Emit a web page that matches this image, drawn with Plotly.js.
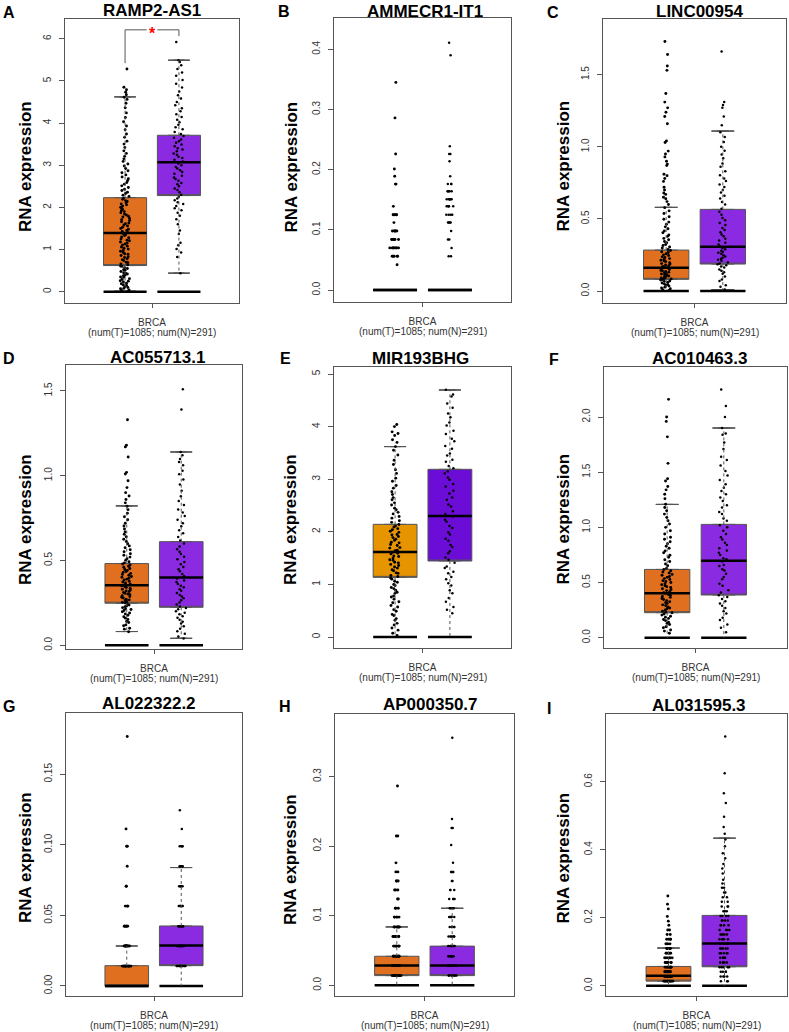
<!DOCTYPE html>
<html><head><meta charset="utf-8">
<script src="https://cdn.plot.ly/plotly-3.0.1.min.js"></script>
<style>html,body{margin:0;padding:0;background:#fff}</style>
</head><body><div id="chart" style="width:789px;height:1032px"></div>
<script>
// ---------------- DATA ----------------
const panelLetters = ['A','B','C','D','E','F','G','H','I'];
const geneNames = ['RAMP2-AS1','AMMECR1-IT1','LINC00954','AC055713.1','MIR193BHG','AC010463.3','AL022322.2','AP000350.7','AL031595.3'];
const groupNames = ['Tumor','Normal'];
const xTickLabel = 'BRCA';
const xSubLabel = '(num(T)=1085; num(N)=291)';
const yAxisLabel = 'RNA expression';

// box statistics, panels A..I
const q1T  = [0.62, 0, 0.081, 0.248, 1.134, 0.227, 0,      0.0139, 0.0137];
const medT = [1.39, 0, 0.162, 0.354, 1.616, 0.402, 0,      0.0283, 0.0294];
const q3T  = [2.23, 0, 0.284, 0.482, 2.142, 0.619, 0.0144, 0.0417, 0.0569];
const lfT  = [0.01, 0, 0,     0.081, 0,     0,     0,      0,      0];
const ufT  = [4.62, 0, 0.58,  0.822, 3.62,  1.208, 0.0283, 0.0839, 0.111];
const q1N  = [2.28, 0, 0.187, 0.224, 1.445, 0.387, 0.0144, 0.0139, 0.0559];
const medN = [3.07, 0, 0.307, 0.399, 2.30,  0.698, 0.0286, 0.0283, 0.1245];
const q3N  = [3.71, 0, 0.566, 0.611, 3.188, 1.027, 0.0425, 0.0563, 0.2069];
const lfN  = [0.44, 0, 0.01,  0.041, 0,     0,     0,      0,      0];
const ufN  = [5.49, 0, 1.109, 1.14,  4.696, 1.90,  0.0839, 0.1107, 0.434];

// significance bracket (panel A): left leg bottom, top, right leg bottom
const bracketY = [5.42, 6.21, 6.06];
const sigMark = '*';

// sample points (non-zero samples shown as jittered dots)
const ptsT_A = [0.01,0.03,0.04,0.07,0.08,0.1,0.12,0.15,0.16,0.19,0.2,0.23,0.25,0.26,0.29,0.31,0.34,0.35,0.38,0.39,0.42,0.44,0.45,0.48,0.51,0.52,0.55,0.57,0.6,0.61,
0.64,0.66,0.69,0.7,0.74,0.76,0.78,0.81,0.83,0.86,0.89,0.9,0.93,0.96,0.98,1.01,1.03,1.06,1.08,1.11,1.13,1.15,1.18,1.21,1.22,1.25,1.28,1.3,1.33,1.35,1.38,
1.4,1.43,1.45,1.48,1.5,1.53,1.56,1.58,1.61,1.63,1.66,1.69,1.71,1.74,1.77,1.79,1.82,1.84,1.87,1.9,1.92,1.95,1.98,2.0,2.03,2.06,2.08,2.11,2.14,2.16,2.19,2.22,
2.26,2.29,2.33,2.36,2.4,2.43,2.47,2.51,2.55,2.59,2.64,2.68,2.72,2.77,2.82,2.87,2.92,2.98,3.03,3.09,3.15,3.21,3.28,3.34,3.42,3.5,3.57,3.66,3.74,3.84,3.93,4.03,4.13,4.24,4.36,4.47,4.56,4.61,4.67,4.73,4.79,4.85,5.28];
const ptsN_A = [0.44,0.82,0.93,1.01,1.1,1.16,1.37,1.45,1.6,1.72,1.8,1.87,1.93,1.98,2.03,2.08,2.12,2.17,2.21,2.25,
2.3,2.36,2.41,2.45,2.5,2.55,2.58,2.63,2.67,2.71,2.75,2.8,2.84,2.88,2.92,2.96,3.0,3.04,
3.09,3.13,3.17,3.2,3.25,3.28,3.33,3.37,3.4,3.45,3.49,3.53,3.57,3.61,3.65,3.69,
3.74,3.79,3.85,3.9,3.96,4.02,4.08,4.14,4.21,4.28,4.35,4.42,4.5,4.58,4.66,4.75,4.84,4.93,5.02,5.12,5.2,5.28,5.37,5.45,5.49,5.92];

const ptsT_B = [0.042,0.056,0.056,0.056,0.056,0.056,0.070,0.070,0.070,0.070,0.070,0.070,0.070,0.070,
0.084,0.084,0.084,0.084,0.084,0.084,0.098,0.098,0.098,0.098,0.098,0.112,0.125,0.125,0.125,0.125,0.125,
0.139,0.176,0.176,0.189,0.201,0.226,0.286,0.345];
const ptsN_B = [0.056,0.056,0.070,0.084,0.084,0.098,0.112,0.112,0.112,0.112,0.125,0.125,0.125,0.125,
0.139,0.139,0.139,0.139,0.139,0.151,0.151,0.151,0.151,0.151,0.151,0.164,0.164,0.164,0.164,0.164,
0.176,0.176,0.176,0.189,0.214,0.226,0.226,0.239,0.390,0.411];

const ptsT_C = [0.004,0.009,0.016,0.021,0.027,0.034,0.038,0.045,0.049,0.056,0.061,0.067,0.07,0.076,0.08,
0.084,0.089,0.091,0.097,0.101,0.105,0.109,0.114,0.118,0.121,0.127,0.131,0.135,0.14,0.143,0.149,0.153,0.156,0.161,
0.165,0.17,0.176,0.18,0.187,0.19,0.196,0.204,0.208,0.213,0.221,0.225,0.233,0.237,0.246,0.251,0.258,0.267,0.272,0.281,
0.288,0.298,0.305,0.316,0.323,0.335,0.343,0.356,0.365,0.379,0.388,0.404,0.416,0.432,0.445,0.463,0.478,0.498,0.515,0.537,0.556,0.578,
0.6,0.62,0.64,0.65,0.67,0.68,0.7,0.72,0.76,0.78,0.8,0.81,0.87,0.88,0.9,0.93,0.95,0.97,1.03,1.04,1.16,1.21,1.24,1.27,1.31,1.37,1.53,1.56,1.64,1.73];
const ptsN_C = [0.01,0.03,0.04,0.07,0.08,0.1,0.12,0.13,0.14,0.15,0.163,0.17,0.178,0.185,
0.19,0.198,0.21,0.217,0.224,0.231,0.24,0.248,0.258,0.265,0.272,0.28,0.29,0.298,
0.31,0.322,0.334,0.351,0.362,0.38,0.392,0.408,0.423,0.437,0.458,0.471,0.49,0.507,0.528,0.549,
0.57,0.6,0.618,0.642,0.66,0.683,0.7,0.722,0.738,0.762,0.78,0.803,0.83,0.862,0.885,0.92,0.947,0.972,1.0,1.033,1.068,1.1,1.15,1.21,1.27,1.29,1.31,1.66];

const ptsT_D = [0.08,0.095,0.1,0.115,0.12,0.134,0.14,0.152,0.16,0.168,0.177,0.185,0.19,0.198,0.205,0.211,0.216,0.222,0.228,0.231,0.237,0.243,
0.249,0.253,0.258,0.264,0.268,0.272,0.279,0.283,0.287,0.292,0.298,0.302,0.306,0.311,0.317,0.321,0.326,0.33,0.336,0.341,0.347,0.351,
0.357,0.361,0.367,0.373,0.378,0.385,0.39,0.395,0.401,0.406,0.413,0.418,0.424,0.43,0.435,0.442,0.447,0.453,0.46,0.466,0.473,0.479,
0.486,0.493,0.502,0.511,0.52,0.531,0.54,0.552,0.563,0.575,0.586,0.599,0.612,0.625,0.64,0.655,0.669,0.686,0.703,0.72,0.74,0.758,0.779,0.8,0.82,
0.84,0.86,0.88,0.9,0.93,0.97,1.01,1.02,1.11,1.17,1.18,1.33];
const ptsN_D = [0.04,0.052,0.068,0.083,0.097,0.112,0.128,0.139,0.151,0.162,0.171,0.183,0.192,0.201,0.212,0.22,
0.229,0.241,0.252,0.266,0.277,0.288,0.297,0.309,0.321,0.33,0.342,0.351,0.362,0.373,0.382,0.394,
0.407,0.421,0.437,0.449,0.462,0.478,0.491,0.507,0.522,0.538,0.551,0.567,0.583,0.6,
0.618,0.639,0.661,0.679,0.702,0.72,0.741,0.762,0.783,0.801,0.828,0.851,0.879,0.912,0.948,0.978,1.008,1.03,1.062,1.081,1.098,1.12,1.14,1.39,1.51];

const ptsT_E = [0.03,0.07,0.13,0.17,0.23,0.26,0.32,0.35,0.41,0.43,0.49,0.52,0.57,0.6,0.65,0.67,0.72,0.76,0.78,0.83,0.85,0.89,0.92,0.94,0.98,1.0,1.04,1.06,1.1,1.12,
1.15,1.17,1.21,1.22,1.26,1.28,1.31,1.33,1.36,1.38,1.41,1.42,1.46,1.47,1.5,1.53,1.54,1.58,1.59,1.61,
1.64,1.65,1.69,1.7,1.74,1.76,1.79,1.8,1.84,1.86,1.89,1.91,1.94,1.95,1.99,2.01,2.04,2.06,2.09,2.11,2.14,
2.18,2.21,2.26,2.29,2.34,2.37,2.42,2.45,2.51,2.55,2.61,2.65,2.71,2.76,2.83,2.88,2.96,3.02,3.11,3.18,3.28,3.36,3.46,3.55,3.62,3.7,3.75,3.83,3.87,3.9,4.0,4.04];
const ptsN_E = [0.45,0.52,0.57,0.67,0.74,0.83,0.89,0.98,1.02,1.1,1.14,1.21,1.24,1.31,1.34,1.41,
1.47,1.51,1.59,1.63,1.71,1.75,1.83,1.87,1.95,1.99,2.07,2.11,2.19,2.23,2.29,
2.34,2.39,2.48,2.52,2.61,2.65,2.73,2.78,2.86,2.91,2.99,3.03,3.11,3.15,
3.21,3.25,3.33,3.37,3.45,3.49,3.58,3.63,3.72,3.77,3.86,3.92,4.02,4.08,4.18,4.25,4.36,4.44,4.57,4.61,4.7];

const ptsT_F = [0.04,0.06,0.07,0.09,0.1,0.12,0.13,0.14,0.155,0.165,0.175,0.185,0.195,0.205,0.215,0.226,
0.232,0.24,0.251,0.262,0.27,0.279,0.291,0.298,0.31,0.318,0.327,0.336,0.347,0.355,0.366,0.373,0.384,0.392,0.401,
0.408,0.418,0.427,0.436,0.444,0.455,0.463,0.472,0.481,0.49,0.5,0.509,0.517,0.528,0.536,0.547,0.555,0.566,0.574,0.586,0.595,0.607,0.618,
0.63,0.652,0.668,0.691,0.707,0.729,0.748,0.77,0.786,0.811,0.829,0.852,0.87,0.893,0.91,0.94,0.97,1.0,1.03,1.06,1.09,1.12,1.15,1.18,1.21,
1.26,1.3,1.34,1.37,1.42,1.44,1.58,1.82,1.96,2.0,2.16];
const ptsN_F = [0.05,0.09,0.12,0.16,0.18,0.22,0.24,0.27,0.29,0.31,0.33,0.35,0.37,0.385,
0.41,0.43,0.47,0.49,0.53,0.55,0.58,0.61,0.62,0.65,0.66,0.69,
0.71,0.72,0.75,0.77,0.79,0.81,0.84,0.86,0.89,0.91,0.94,0.97,1.0,1.02,
1.06,1.08,1.12,1.14,1.18,1.2,1.24,1.27,1.3,1.33,1.36,1.39,1.43,1.47,1.51,1.56,1.61,1.64,1.71,1.77,1.84,1.85,1.9,2.0,2.1,2.25];

const ptsT_G = [0.0141,0.0141,0.0141,0.0141,0.0141,0.0141,0.0141,0.0141,0.0141,0.0141,0.0141,0.0141,0.0141,0.0141,
0.0283,0.0283,0.0283,0.0283,0.0283,0.0283,0.0283,0.0283,0.0283,
0.0424,0.0424,0.0424,0.0424,0.0424,0.0424,0.0424,
0.0566,0.0566,0.0566,0.0566,0.0707,0.0707,0.0848,0.099,0.099,0.1113,0.1768];
const ptsN_G = [0.0141,0.0141,0.0141,0.0141,0.0141,0.0141,0.0141,0.0141,0.0141,0.0141,0.0141,0.0141,
0.0283,0.0283,0.0283,0.0283,0.0283,0.0283,0.0283,0.0283,0.0283,0.0283,0.0283,0.0283,
0.0424,0.0424,0.0424,0.0424,0.0424,0.0424,0.0424,0.0424,0.0424,0.0424,
0.0566,0.0566,0.0566,0.0566,0.0566,0.0566,0.0707,0.0707,0.0707,0.0707,0.0707,
0.0848,0.0848,0.0848,0.0848,0.0848,0.099,0.099,0.099,0.099,0.1113,0.1245];

const ptsT_H = [0.0139,0.0139,0.0139,0.0139,0.0139,0.0139,0.0139,0.0139,0.0139,0.0139,0.0139,0.0139,
0.0283,0.0283,0.0283,0.0283,0.0283,0.0283,0.0283,0.0283,0.0283,0.0283,0.0283,0.0283,
0.0417,0.0417,0.0417,0.0417,0.0417,0.0417,0.0417,0.0417,0.0417,0.0417,
0.0563,0.0563,0.0563,0.0563,0.0563,0.0563,0.0563,0.0563,0.0701,0.0701,0.0701,0.0701,0.0701,0.0701,0.0701,
0.0839,0.0839,0.0839,0.0839,0.0839,0.0839,0.098,0.098,0.098,0.098,0.098,0.1107,0.1107,0.1107,0.124,0.124,
0.137,0.137,0.137,0.150,0.150,0.150,0.163,0.163,0.176,0.2147,0.2147,0.2865];
const ptsN_H = [0.0139,0.0139,0.0139,0.0139,0.0139,0.0139,0.0139,0.0139,0.0283,0.0283,0.0283,0.0283,0.0283,0.0283,0.0283,0.0283,
0.0417,0.0417,0.0417,0.0417,0.0417,0.0417,0.0417,0.0417,0.0563,0.0563,0.0563,0.0563,0.0563,0.0563,0.0563,
0.0701,0.0701,0.0701,0.0701,0.0701,0.0701,0.0839,0.0839,0.0839,0.0839,0.0839,0.098,0.098,0.098,0.098,0.098,
0.1107,0.1107,0.1107,0.1107,0.124,0.124,0.124,0.124,0.137,0.137,0.137,0.150,0.150,0.163,0.163,0.163,0.163,
0.176,0.2017,0.226,0.226,0.239,0.356];

const ptsT_I = [0.0137,0.0137,0.0137,0.0137,0.0137,0.0137,0.0137,0.0137,0.0137,0.0137,
0.0274,0.0274,0.0274,0.0274,0.0274,0.0274,0.0274,0.0274,0.0274,0.0274,
0.0411,0.0411,0.0411,0.0411,0.0411,0.0411,0.0411,0.0411,0.0411,0.0411,
0.0548,0.0548,0.0548,0.0548,0.0548,0.0548,0.0548,0.0548,0.0548,
0.0685,0.0685,0.0685,0.0685,0.0685,0.0685,0.0685,0.0685,0.0822,0.0822,0.0822,0.0822,0.0822,0.0822,0.0822,
0.0959,0.0959,0.0959,0.0959,0.0959,0.0959,0.1096,0.1096,0.1096,0.1096,0.1096,0.1233,0.1233,0.1233,0.1233,
0.137,0.137,0.137,0.137,0.1507,0.1507,0.164,0.164,0.178,0.19,0.204,0.226,0.24,0.264];
const ptsN_I = [0.0137,0.0137,0.0137,0.0274,0.0274,0.0274,0.0274,0.0411,0.0411,0.0411,0.0411,
0.0548,0.0548,0.0548,0.0548,0.0548,0.0685,0.0685,0.0685,0.0685,0.0685,0.0822,0.0822,0.0822,0.0822,0.0822,
0.0959,0.0959,0.0959,0.0959,0.0959,0.1096,0.1096,0.1096,0.1096,0.1096,0.1233,0.1233,0.1233,0.1233,0.1233,
0.137,0.137,0.137,0.137,0.137,0.1507,0.1507,0.1507,0.1507,0.1507,0.164,0.164,0.164,0.164,0.178,0.178,0.178,0.178,
0.192,0.192,0.192,0.192,0.205,0.205,0.205,0.205,0.219,0.219,0.219,0.233,0.233,0.233,0.247,0.247,0.26,0.26,
0.274,0.274,0.288,0.288,0.301,0.312,0.33,0.345,0.358,0.375,0.39,0.41,0.43,0.447,0.467,0.497,0.537,0.566,0.625,0.733];

const ptsT = [ptsT_A,ptsT_B,ptsT_C,ptsT_D,ptsT_E,ptsT_F,ptsT_G,ptsT_H,ptsT_I];
const ptsN = [ptsN_A,ptsN_B,ptsN_C,ptsN_D,ptsN_E,ptsN_F,ptsN_G,ptsN_H,ptsN_I];

// ---------------- STYLE / LAYOUT ----------------
const W = 789, H = 1032;
const FONT = 'Liberation Sans, Arial, Helvetica, sans-serif';
const fillT = ['#E0701F','#E0701F','#E0701F','#E0701F','#E69400','#E0701F','#E0701F','#E0701F','#E0701F'];
const fillN = ['#8A2BE2','#8A2BE2','#8A2BE2','#8A2BE2','#6B0DD6','#8A2BE2','#8A2BE2','#8A2BE2','#8A2BE2'];
const markerSize = [2.9, 2.5];
// plot frames in px: [left, right, top, bottom]
const frames = [[65,239,19,303],[334,511,18,302],[603,786,19,303],
                [66,242,365,649],[334,511,367,648],[604,787,367,648],
                [66,242,713,996],[335,514,714,996],[606,787,714,996]];
const yRanges = [[-0.268,6.467],[-0.0199,0.452],[-0.083,1.886],[-0.022,1.653],[-0.209,5.133],[-0.093,2.453],[-0.0071,0.1934],[-0.0154,0.390],[-0.030,0.799]];
const yDtick = [1,0.1,0.5,0.5,1,0.5,0.05,0.1,0.2];
const yFmt = ['d','.1f','.1f','.1f','d','.1f','.2f','.1f','.1f'];
const letterPos = [[9,12.5],[284,11],[553,12],[9,359],[285,359],[554,360],[9,706],[285,706],[549,708]];
const titlePos = [[152,10.5],[425,11],[699,11.5],[157,357.5],[420,359],[699,359],[149,703],[430,704.5],[699,705]];
const ylabPos = [[25,167],[291,167.5],[563,166.5],[25,520],[290,520],[563,519.5],[25,858],[290,860],[563,858.5]];
const groupPos = [1, 2];
const xRange = [-0.115, 3.115];

const data = [];
const layout = {
  width: W, height: H, margin: {l:0,r:0,t:0,b:0},
  paper_bgcolor: '#fff', plot_bgcolor: '#fff', showlegend: false,
  font: {family: FONT, color: '#000'}, boxmode: 'overlay',
  annotations: []
};
const px = x => x / W, py = y => 1 - y / H;

for (let k = 0; k < 9; k++) {
  const xa = 'x' + (k+1), ya = 'y' + (k+1);
  const f = frames[k];
  layout['xaxis' + (k+1)] = {
    domain: [px(f[0]), px(f[1])], anchor: ya, range: xRange, fixedrange: true,
    showgrid: false, zeroline: false, showline: true, linecolor: '#555', linewidth: 1, mirror: true,
    ticks: 'outside', ticklen: 4, tickcolor: '#555', tickvals: [1.5], ticktext: [xTickLabel],
    tickfont: {size: 10, color: '#333', family: FONT}, ticklabelstandoff: 6
  };
  layout['yaxis' + (k+1)] = {
    domain: [py(f[3]), py(f[2])], anchor: xa, range: yRanges[k], fixedrange: true,
    showgrid: false, zeroline: false, showline: true, linecolor: '#555', linewidth: 1, mirror: true,
    ticks: 'outside', ticklen: 5, tickcolor: '#555', tick0: 0, dtick: yDtick[k], tickformat: yFmt[k],
    tickangle: -90, tickfont: {size: 10, color: '#333', family: FONT}, ticklabelstandoff: 4
  };
  const groups = [
    {pts: ptsT[k], q1: q1T[k], med: medT[k], q3: q3T[k], lf: lfT[k], uf: ufT[k], fill: fillT[k], name: groupNames[0]},
    {pts: ptsN[k], q1: q1N[k], med: medN[k], q3: q3N[k], lf: lfN[k], uf: ufN[k], fill: fillN[k], name: groupNames[1]}
  ];
  groups.forEach((g, gi) => {
    const p = groupPos[gi];
    // box body (whiskers drawn separately, dotted)
    data.push({type:'box', xaxis:xa, yaxis:ya, name:g.name, x:[p], q1:[g.q1], median:[g.q1], q3:[g.q3],
      lowerfence:[g.q1], upperfence:[g.q3], width:0.8, fillcolor:g.fill, line:{color:'#555', width:1},
      boxpoints:false, hoverinfo:'skip'});
    // dotted whiskers
    data.push({type:'scatter', mode:'lines', xaxis:xa, yaxis:ya, x:[p,p,null,p,p], y:[g.q3,g.uf,null,g.q1,g.lf],
      line:{color:'#555', width:1, dash:'dot'}, hoverinfo:'skip'});
    // whisker caps
    data.push({type:'box', xaxis:xa, yaxis:ya, x:[p,p], q1:[g.uf,g.lf], median:[g.uf,g.lf], q3:[g.uf,g.lf],
      lowerfence:[g.uf,g.lf], upperfence:[g.uf,g.lf], width:0.4, fillcolor:'rgba(0,0,0,0)',
      line:{color:'#555', width:1}, boxpoints:false, hoverinfo:'skip'});
    // jittered sample points
    data.push({type:'box', xaxis:xa, yaxis:ya, x0:p, y:g.pts, boxpoints:'all', jitter:0.25, pointpos:0,
      width:0.8, fillcolor:'rgba(0,0,0,0)', line:{color:'rgba(0,0,0,0)', width:0},
      marker:{color:'#000', size:markerSize[gi]}, hoverinfo:'skip'});
    // median line and zero line
    data.push({type:'box', xaxis:xa, yaxis:ya, x:[p,p], q1:[g.med,0], median:[g.med,0], q3:[g.med,0],
      lowerfence:[g.med,0], upperfence:[g.med,0], width:0.8, fillcolor:'rgba(0,0,0,0)',
      line:{color:'#000', width:2.5}, boxpoints:false, hoverinfo:'skip'});
  });
  layout.annotations.push({xref:'paper', yref:'paper', x:px(letterPos[k][0]), y:py(letterPos[k][1]),
    xanchor:'center', yanchor:'middle', showarrow:false, text:'<b>'+panelLetters[k]+'</b>',
    font:{size:16, family:FONT, color:'#000'}});
  layout.annotations.push({xref:'paper', yref:'paper', x:px(titlePos[k][0]), y:py(titlePos[k][1]),
    xanchor:'center', yanchor:'middle', showarrow:false, text:'<b>'+geneNames[k]+'</b>',
    font:{size:17, family:FONT, color:'#000'}});
  layout.annotations.push({xref:'paper', yref:'paper', x:px(ylabPos[k][0]), y:py(ylabPos[k][1]),
    xanchor:'center', yanchor:'middle', showarrow:false, textangle:-90, text:'<b>'+yAxisLabel+'</b>',
    font:{size:17, family:FONT, color:'#000'}});
  // second line of the x category label
  layout.annotations.push({xref:'paper', yref:'paper', x:px((f[0]+f[1])/2), y:py(f[3]+29.5),
    xanchor:'center', yanchor:'middle', showarrow:false, text:xSubLabel,
    font:{size:10, family:FONT, color:'#333'}});
}

// significance bracket on panel A
const gap = 0.1;
data.push({type:'scatter', mode:'lines', xaxis:'x', yaxis:'y',
  x:[groupPos[0],groupPos[0],(groupPos[0]+groupPos[1])/2-gap,null,(groupPos[0]+groupPos[1])/2+gap,groupPos[1],groupPos[1]],
  y:[bracketY[0],bracketY[1],bracketY[1],null,bracketY[1],bracketY[1],bracketY[2]],
  line:{color:'#555', width:1}, hoverinfo:'skip'});
layout.annotations.push({xref:'x', yref:'y', x:(groupPos[0]+groupPos[1])/2, y:bracketY[1],
  xanchor:'center', yanchor:'middle', yshift:-4, showarrow:false, text:'<b>'+sigMark+'</b>',
  font:{size:16, family:FONT, color:'#FF0000'}});

Plotly.newPlot('chart', data, layout, {staticPlot:true, displayModeBar:false});
</script></body></html>
